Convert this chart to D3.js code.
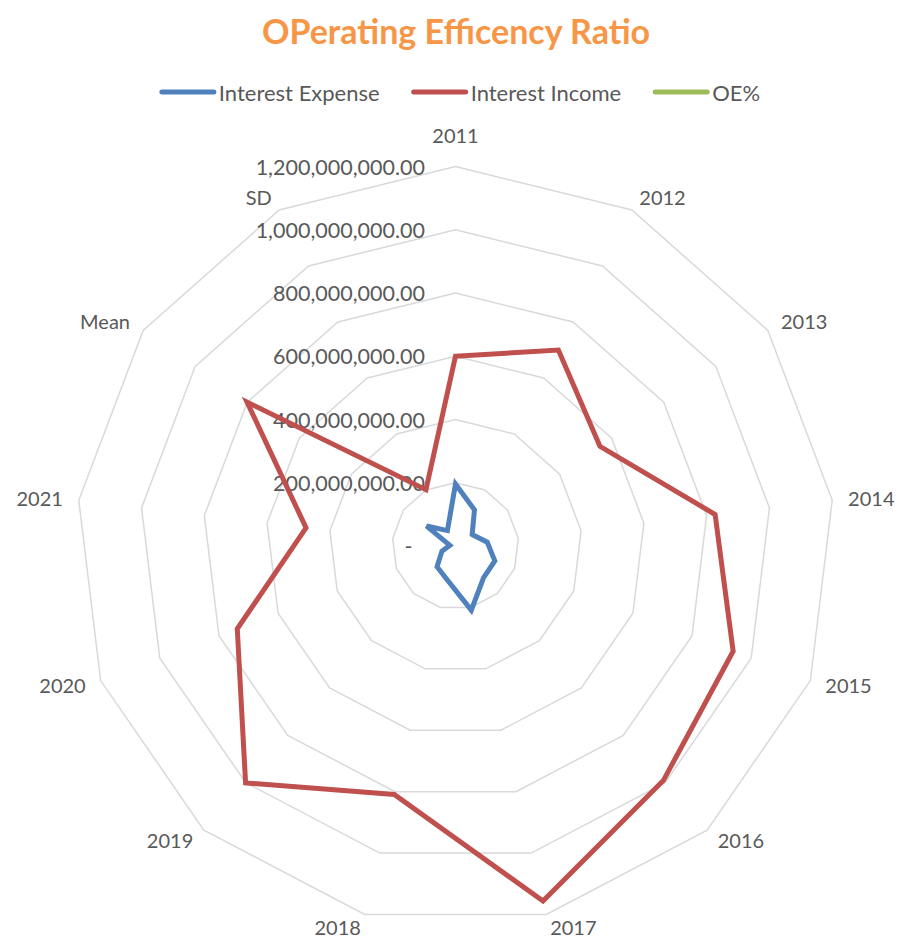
<!DOCTYPE html>
<html>
<head>
<meta charset="utf-8">
<script src="https://cdn.jsdelivr.net/npm/d3@7"></script>
<style>
 body { margin: 0; background: #fff; }
 text { font-family: Lato, "Open Sans", sans-serif; }
</style>
</head>
<body>
<div id="chart"></div>
<script>
// chart data
var categories = ["2011", "2012", "2013", "2014", "2015", "2016", "2017", "2018", "2019", "2020", "2021", "Mean", "SD"];
var interestExpense = [196e6, 129e6, 64e6, 101e6, 133e6, 134e6, 209e6, 110e6, 88e6, 46e6, 18e6, 111e6, 55e6];
var interestIncome = [600e6, 700e6, 555e6, 827e6, 939e6, 991e6, 1156e6, 809e6, 1001e6, 738e6, 476e6, 801e6, 201e6];
var oePercent = [0.33, 0.18, 0.12, 0.12, 0.14, 0.14, 0.18, 0.14, 0.09, 0.06, 0.04, 0.14, 0.08];
var seriesNames = ["Interest Expense", "Interest Income", "OE%"];
var tickValues = [0, 200e6, 400e6, 600e6, 800e6, 1000e6, 1200e6];

var svgWidth = 899;
var svgHeight = 939;
var cx = 455.5, cy = 546, radius = 379.5;
var colors = ["#4F81BD", "#C0504D", "#9BBB59"];
var series = [interestExpense, interestIncome, oePercent];

var svg = d3.select("#chart")
 .append("svg")
   .attr("width", svgWidth)
   .attr("height", svgHeight);

var r = d3.scaleLinear().domain([0, 1200e6]).range([0, radius]);
var angle = d3.scaleLinear().domain([0, categories.length]).range([0, 2 * Math.PI]);

function pt(i, v) {
 var a = angle(i);
 return [cx + r(v) * Math.sin(a), cy - r(v) * Math.cos(a)];
}

// title
svg.append("text")
 .attr("x", 456)
 .attr("y", 30)
 .attr("text-anchor", "middle")
 .attr("dominant-baseline", "central")
 .style("font-size", "34px")
 .style("font-weight", "bold")
 .style("fill", "#F79646")
 .text("OPerating Efficency Ratio");

// grid rings
var grid = svg.append("g");
tickValues.slice(1).forEach(function (t) {
 grid.append("polygon")
   .attr("points", categories.map(function (c, i) { return pt(i, t).join(","); }).join(" "))
   .attr("fill", "none")
   .attr("stroke", "#D9D9D9")
   .attr("stroke-width", 1.5);
});

// value axis labels
var fmt = d3.format(",.2f");
svg.append("g")
 .selectAll("text")
 .data(tickValues)
 .enter()
 .append("text")
   .attr("x", cx - 30.5)
   .attr("y", function (d) { return pt(0, d)[1]; })
   .attr("text-anchor", "end")
   .attr("dominant-baseline", "central")
   .style("font-size", "21.5px")
   .style("fill", "#595959")
   .text(function (d) { return d === 0 ? "-\u2007" : fmt(d); });

// category labels
svg.append("g")
 .selectAll("text")
 .data(categories)
 .enter()
 .append("text")
   .each(function (d, i) {
     var a = angle(i);
     var dx = Math.sin(a), dy = -Math.cos(a);
     var p = pt(i, 1200e6);
     var t = d3.select(this);
     if (Math.abs(dx) < 0.01) {
       t.attr("x", p[0]).attr("y", p[1] - 31.7).attr("text-anchor", "middle");
     } else {
       t.attr("x", p[0] + 16 * dx)
        .attr("y", p[1] + 14 * dy - 1)
        .attr("text-anchor", dx > 0 ? "start" : "end");
     }
   })
   .attr("dominant-baseline", "central")
   .style("font-size", "20px")
   .style("fill", "#595959")
   .text(function (d) { return d; });

// series lines
var line = d3.line().curve(d3.curveLinearClosed);
svg.append("g")
 .selectAll("path")
 .data(series)
 .enter()
 .append("path")
   .attr("d", function (s) { return line(s.map(function (v, i) { return pt(i, v); })); })
   .attr("fill", "none")
   .attr("stroke", function (s, k) { return colors[k]; })
   .attr("stroke-width", 5)
   .attr("stroke-linejoin", "miter");

// legend
var legend = svg.append("g");
var items = legend.selectAll("g")
 .data(seriesNames)
 .enter()
 .append("g");
items.append("line")
 .attr("x1", 0).attr("x2", 52)
 .attr("y1", 0).attr("y2", 0)
 .attr("stroke", function (d, k) { return colors[k]; })
 .attr("stroke-width", 5)
 .attr("stroke-linecap", "round");
items.append("text")
 .attr("x", 57)
 .attr("y", 0)
 .attr("dominant-baseline", "central")
 .style("font-size", "22px")
 .style("fill", "#595959")
 .text(function (d) { return d; });
var xpos = 0;
items.each(function () {
 var w = this.getBBox().width;
 d3.select(this).attr("transform", "translate(" + xpos + ",0)");
 xpos += w + 34;
});
var total = xpos - 34;
legend.attr("transform", "translate(" + (461 - total / 2) + ",92)");
</script>
</body>
</html>
